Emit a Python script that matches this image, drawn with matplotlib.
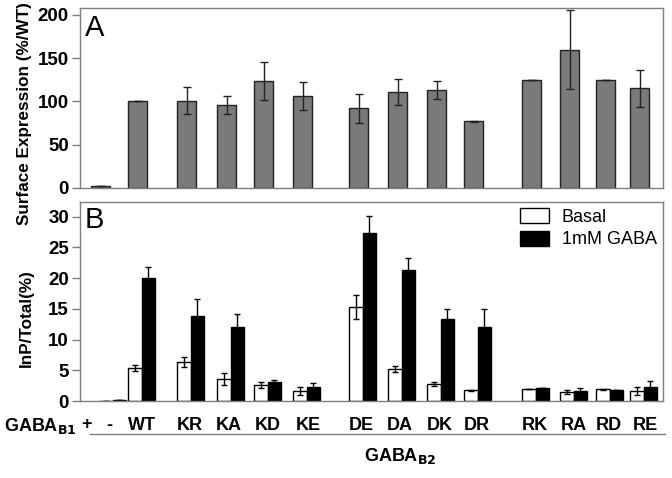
import matplotlib.pyplot as plt
import numpy as np

# panel A: surface expression (%WT)
labels_a = ['-', 'WT', 'KR', 'KA', 'KD', 'KE', 'DE', 'DA', 'DK', 'DR', 'RK', 'RA', 'RD', 'RE']
surface = [2, 100, 101, 96, 124, 106, 92, 111, 113, 77, 125, 160, 125, 115]
surface_err = [0, 0, 16, 10, 22, 16, 17, 15, 10.5, 1, 0, 46, 0, 21]

# panel B: InP/Total (%)
labels_b = ['-', 'WT', 'KR', 'KA', 'KD', 'KE', 'DE', 'DA', 'DK', 'DR', 'RK', 'RA', 'RD', 'RE']
basal = [0.0, 5.4, 6.3, 3.6, 2.6, 1.6, 15.3, 5.2, 2.8, 1.75, 1.9, 1.5, 1.9, 1.6]
basal_err = [0, 0.45, 0.8, 1.0, 0.45, 0.7, 2.0, 0.45, 0.3, 0.1, 0, 0.3, 0.05, 0.65]
gaba = [0.1, 20.0, 13.9, 12.0, 3.05, 2.2, 27.3, 21.3, 13.3, 12.0, 2.07, 1.7, 1.8, 2.2]
gaba_err = [0, 1.8, 2.7, 2.2, 0.4, 0.8, 2.9, 2.0, 1.7, 3.0, 0, 0.4, 0, 1.1]

# layout: left edge of each group (in pixel-like x units)
left_a = [91, 128, 177, 217, 254, 293, 349, 388, 427, 464, 522, 560, 596, 630]
left_b = [99, 128, 177, 217, 254, 293, 349, 388, 427, 464, 522, 560, 596, 630]
bottom_labels = ['+', '-', 'WT', 'KR', 'KA', 'KD', 'KE', 'DE', 'DA', 'DK', 'DR', 'RK', 'RA', 'RD', 'RE']
bottom_label_x = [86, 109, 142, 190, 229, 268, 308, 361, 400, 440, 477, 535, 574, 609, 645]

W, H = 672, 478
fig = plt.figure(figsize=(6.72, 4.78), dpi=100)
plt.rcParams['font.family'] = ['Liberation Sans', 'DejaVu Sans']

frame_col = '#7f7f7f'
lab_size = 13


def style_axes(ax):
    for s in ax.spines.values():
        s.set_color(frame_col)
        s.set_linewidth(1.0)
    ax.tick_params(axis='y', colors=frame_col, length=6, width=1, pad=2,
                   labelsize=13.5)
    for t in ax.get_yticklabels():
        t.set_color('black')
        t.set_fontweight('bold')
    ax.set_xticks([])
    ax.set_xlim(80, 663)


def axes_px(left, top, right, bottom):
    return fig.add_axes([left / W, 1 - bottom / H, (right - left) / W, (bottom - top) / H])


# ---- panel A
axA = axes_px(80, 8, 663, 188)
xa = np.array(left_a) + 9.5
axA.bar(xa, surface, width=19, color='#7a7a7a', edgecolor='#222222', linewidth=1)
axA.errorbar(xa, surface, yerr=surface_err, fmt='none', ecolor='#222222',
             elinewidth=1, capsize=3, capthick=1)
axA.set_ylim(0, 208)
axA.set_yticks([0, 50, 100, 150, 200])
style_axes(axA)
axA.text(85, 201, 'A', fontsize=21, va='top', ha='left')
fig.text(25 / W, 1 - 114 / H, 'Surface Expression (%/WT)', rotation=90,
         fontsize=12.3, fontweight='bold', ha='center', va='center')

# ---- panel B
axB = axes_px(80, 202, 663, 401)
xb = np.array(left_b)
bw = 13.5
hb = axB.bar(xb + bw / 2, basal, width=bw, color='white', edgecolor='black', linewidth=1,
             label='Basal')
hg = axB.bar(xb + bw * 1.5, gaba, width=bw, color='black', edgecolor='black', linewidth=1,
             label='1mM GABA')
axB.errorbar(xb + bw / 2, basal, yerr=basal_err, fmt='none', ecolor='black',
             elinewidth=1, capsize=2.5, capthick=1)
axB.errorbar(xb + bw * 1.5, gaba, yerr=gaba_err, fmt='none', ecolor='black',
             elinewidth=1, capsize=2.5, capthick=1)
axB.set_ylim(0, 32.4)
axB.set_yticks([0, 5, 10, 15, 20, 25, 30])
style_axes(axB)
axB.text(85, 31.8, 'B', fontsize=21, va='top', ha='left')
axB.legend(loc='upper right', frameon=False, fontsize=13, handlelength=1.6,
           handleheight=0.9, borderaxespad=0.05, borderpad=0.3, labelspacing=0.25,
           handletextpad=0.7)
fig.text(26 / W, 1 - 318 / H, 'InP/Total(%)', rotation=90,
         fontsize=12.3, fontweight='bold', ha='center', va='center')

# ---- bottom labels
fig.text(4 / W, 1 - 426 / H, r'GABA$_{\mathbf{B1}}$', fontsize=lab_size, fontweight='bold',
         ha='left', va='center')
for lab, x in zip(bottom_labels, bottom_label_x):
    fig.text(x / W, 1 - 425 / H, lab, fontsize=lab_size, fontweight='bold',
             ha='center', va='center')
fig.add_artist(plt.Line2D([90 / W, 665 / W], [1 - 434 / H, 1 - 434 / H],
                          color=frame_col, linewidth=1))
fig.text(400 / W, 1 - 456 / H, r'GABA$_{\mathbf{B2}}$', fontsize=lab_size, fontweight='bold',
         ha='center', va='center')

fig.savefig('out.png', dpi=100)
